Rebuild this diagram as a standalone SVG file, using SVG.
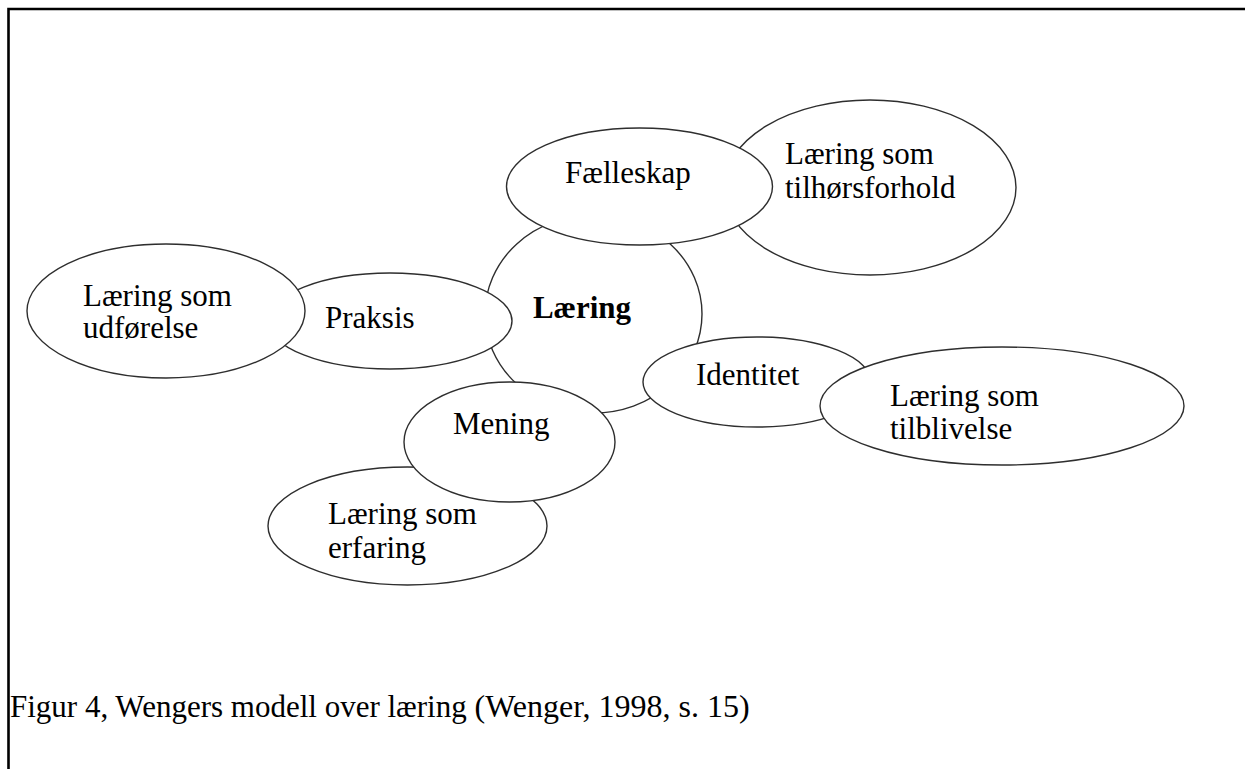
<svg xmlns="http://www.w3.org/2000/svg" width="1245" height="769" viewBox="0 0 1245 769">
  <style>
    .bubble { fill: #ffffff; stroke: #2e2e2e; stroke-width: 1.4; }
    .label { font-family: "Liberation Serif", "Times New Roman", serif; font-size: 31px; fill: #000000; }
    .core { font-weight: bold; }
    .frame { fill: none; stroke: #000000; stroke-width: 2.6; }
  </style>

  <rect width="1245" height="769" fill="#ffffff"/>
  <!-- table cell frame (top and left rules) -->
  <path class="frame" d="M8.5,769 V9 H1245"/>

  <!-- drawn back to front so overlaps hide the lower outlines -->
  <g id="node-laering">
    <ellipse class="bubble" cx="593.5" cy="314" rx="108.5" ry="99"/>
    <text class="label core" x="582" y="318" text-anchor="middle">Læring</text>
  </g>
  <g id="node-tilhorsforhold">
    <ellipse class="bubble" cx="870" cy="187.5" rx="146" ry="87.5"/>
    <text class="label" x="785" y="164">Læring som</text>
    <text class="label" x="785" y="198">tilhørsforhold</text>
  </g>
  <g id="node-faelleskap">
    <ellipse class="bubble" cx="639.5" cy="186.5" rx="133" ry="58.5"/>
    <text class="label" x="565" y="183">Fælleskap</text>
  </g>
  <g id="node-praksis">
    <ellipse class="bubble" cx="390" cy="321" rx="122" ry="48"/>
    <text class="label" x="325" y="328">Praksis</text>
  </g>
  <g id="node-udforelse">
    <ellipse class="bubble" cx="166" cy="311" rx="139" ry="67"/>
    <text class="label" x="83" y="306">Læring som</text>
    <text class="label" x="83" y="338">udførelse</text>
  </g>
  <g id="node-erfaring">
    <ellipse class="bubble" cx="407.5" cy="526" rx="139.5" ry="59"/>
    <text class="label" x="328" y="524">Læring som</text>
    <text class="label" x="328" y="558">erfaring</text>
  </g>
  <g id="node-mening">
    <ellipse class="bubble" cx="509.5" cy="442" rx="105.5" ry="60"/>
    <text class="label" x="453" y="434">Mening</text>
  </g>
  <g id="node-identitet">
    <ellipse class="bubble" cx="757" cy="382" rx="114" ry="45"/>
    <text class="label" x="696" y="385">Identitet</text>
  </g>
  <g id="node-tilblivelse">
    <ellipse class="bubble" cx="1002" cy="406" rx="182" ry="59"/>
    <text class="label" x="890" y="406">Læring som</text>
    <text class="label" x="890" y="439">tilblivelse</text>
  </g>

  <g id="connectors"/>

  <g id="caption">
    <text class="label" x="10" y="717">Figur 4, Wengers modell over læring <tspan font-size="32">(Wenger, 1998, s. 15)</tspan></text>
  </g>
</svg>
